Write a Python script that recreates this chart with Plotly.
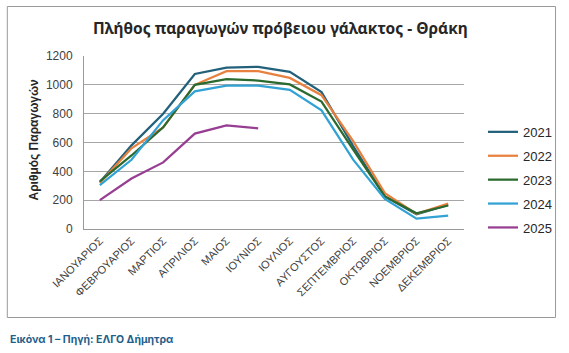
import plotly.graph_objects as go

months = ["ΙΑΝΟΥΑΡΙΟΣ", "ΦΕΒΡΟΥΑΡΙΟΣ", "ΜΑΡΤΙΟΣ", "ΑΠΡΙΛΙΟΣ", "ΜΑΙΟΣ", "ΙΟΥΝΙΟΣ",
          "ΙΟΥΛΙΟΣ", "ΑΥΓΟΥΣΤΟΣ", "ΣΕΠΤΕΜΒΡΙΟΣ", "ΟΚΤΩΒΡΙΟΣ", "ΝΟΕΜΒΡΙΟΣ", "ΔΕΚΕΜΒΡΙΟΣ"]

y2021 = [325, 580, 800, 1075, 1120, 1125, 1090, 950, 575, 226, 102, 167]
y2022 = [320, 560, 705, 1000, 1095, 1095, 1048, 928, 609, 249, 105, 177]
y2023 = [330, 510, 705, 1000, 1040, 1030, 1003, 884, 551, 226, 109, 163]
y2024 = [305, 480, 755, 955, 995, 995, 965, 823, 481, 209, 72, 93]
y2025 = [200, 350, 462, 662, 718, 698]

series = [
    ("2021", y2021, "#23607A"),
    ("2022", y2022, "#E8813F"),
    ("2023", y2023, "#2A6A2E"),
    ("2024", y2024, "#32A2D5"),
    ("2025", y2025, "#973E93"),
]

fig = go.Figure()
for name, vals, col in series:
    fig.add_trace(go.Scatter(
        x=months[:len(vals)], y=vals, name=name, mode="lines",
        line=dict(color=col, width=2.25), legendgroup=name,
    ))

tickfont = dict(family="Liberation Sans, Arial", size=12, color="#404040")

fig.update_layout(
    width=569, height=353,
    margin=dict(l=84, r=101, t=56, b=124),
    paper_bgcolor="white", plot_bgcolor="white",
    showlegend=True,
    legend=dict(x=1.05, y=0.648, xanchor="left", yanchor="top",
                font=dict(family="Liberation Sans, Arial", size=13, color="#262626"),
                tracegroupgap=4, itemwidth=30, bgcolor="rgba(0,0,0,0)"),
    xaxis=dict(type="category", categoryorder="array", categoryarray=months,
               tickangle=-45, tickfont=dict(family="Liberation Sans, Arial", size=11, color="#404040"),
               showgrid=False, showline=True, linecolor="#999999", linewidth=1,
               ticks="", range=[-0.5, 11.5]),
    yaxis=dict(range=[0, 1200], dtick=200, tickfont=tickfont,
               showgrid=True, gridcolor="#A6A6A6", gridwidth=1,
               showline=True, linecolor="#999999", linewidth=1,
               zeroline=False, ticks="", ticklabelstandoff=8),
)

fig.add_annotation(text="<b>Πλήθος παραγωγών πρόβειου γάλακτος - Θράκη</b>",
                   xref="paper", yref="paper", x=(283 - 84) / 384, y=(229 - 28) / 173,
                   xanchor="center", yanchor="middle", showarrow=False,
                   font=dict(family="Noto Sans", size=15.5, color="#262626"))

fig.add_annotation(text="<b>Αριθμός Παραγωγών</b>",
                   xref="paper", yref="paper", x=(33 - 84) / 384, y=(229 - 140) / 173,
                   xanchor="center", yanchor="middle", showarrow=False, textangle=-90,
                   font=dict(family="Liberation Sans, Arial", size=12, color="#262626"))

fig.add_annotation(text="<b>Εικόνα 1 – Πηγή: ΕΛΓΟ Δήμητρα</b>",
                   xref="paper", yref="paper", x=(7 - 84) / 384, y=(229 - 339) / 173,
                   xanchor="left", yanchor="middle", showarrow=False,
                   font=dict(family="Inter, Noto Sans", size=10.5, color="#1F5F8B"))

fig.add_shape(type="rect", xref="paper", yref="paper",
              x0=(6.5 - 84) / 384, x1=(560.5 - 84) / 384,
              y0=(229 - 317.5) / 173, y1=(229 - 6.5) / 173,
              line=dict(color="#999999", width=1), fillcolor="rgba(0,0,0,0)", layer="below")

fig.write_html("out.html")
